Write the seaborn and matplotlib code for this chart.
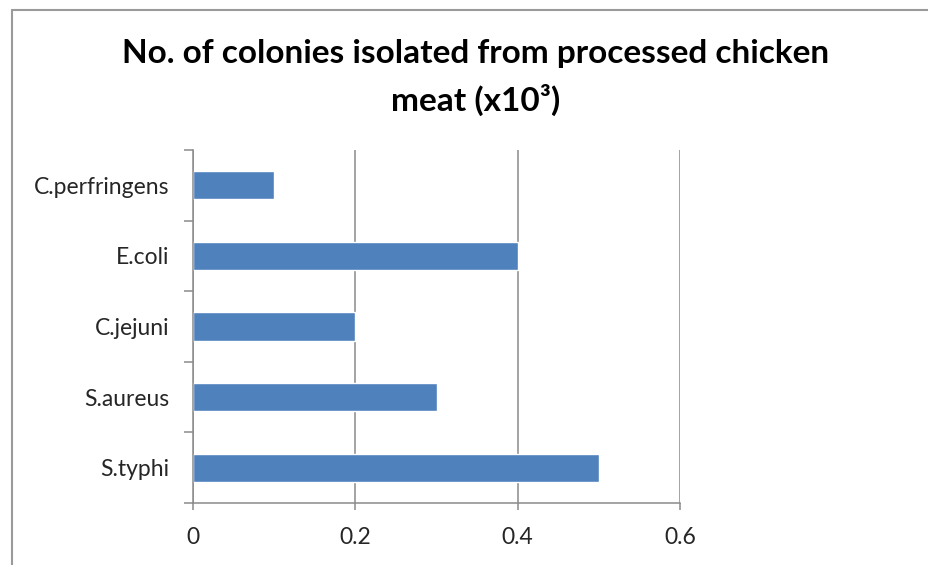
import matplotlib
matplotlib.use("Agg")
import matplotlib.pyplot as plt
import seaborn as sns
import pandas as pd
from matplotlib.lines import Line2D

# Data
organisms = ["C.perfringens", "E.coli", "C.jejuni", "S.aureus", "S.typhi"]
colonies = [0.1, 0.4, 0.2, 0.3, 0.5]
x_ticks = [0, 0.2, 0.4, 0.6]
x_tick_labels = ["0", "0.2", "0.4", "0.6"]

df = pd.DataFrame({"Organism": organisms, "Colonies": colonies})

sns.set_theme(style="white")
plt.rcParams["font.family"] = ["Lato", "DejaVu Sans"]

grey = "#8a8a8a"
bar_blue = "#4f81bd"

fig = plt.figure(figsize=(9.29, 5.65), dpi=100)
ax = fig.add_axes([193 / 929, 1 - 503 / 565, (680 - 193) / 929, (503 - 150) / 565])

sns.barplot(data=df, x="Colonies", y="Organism", order=organisms,
            color=bar_blue, width=0.4, saturation=1, ax=ax)

ax.set_xlim(0, 0.6)
ax.set_ylim(len(organisms) - 0.5, -0.5)
ax.set_xlabel("")
ax.set_ylabel("")

# vertical gridlines
ax.set_xticks(x_ticks)
ax.set_xticklabels(x_tick_labels, fontsize=16.5, color="#262626")
ax.grid(axis="x", color=grey, linewidth=1.1)
ax.set_axisbelow(True)

# category ticks sit between the bars, like Excel
ax.set_yticks(range(len(organisms)))
ax.set_yticklabels(organisms, fontsize=16.5, color="#262626")
ax.set_yticks([i - 0.5 for i in range(len(organisms) + 1)], minor=True)
ax.tick_params(axis="y", which="major", length=0, pad=17)
ax.tick_params(axis="y", which="minor", length=6.5, width=1.1, color=grey, left=True)
ax.tick_params(axis="x", which="major", length=5, width=1.1, color=grey, bottom=True, pad=12)

for side in ["top", "right"]:
    ax.spines[side].set_visible(False)
for side in ["left", "bottom"]:
    ax.spines[side].set_color(grey)
    ax.spines[side].set_linewidth(1.1)

fig.text(0.512, 1 - 53 / 565, "No. of colonies isolated from processed chicken",
         ha="center", va="center", fontsize=24, fontweight="bold", color="black")
fig.text(0.512, 1 - 100 / 565, "meat (x10\u00b3)",
         ha="center", va="center", fontsize=24, fontweight="bold", color="black")

# chart area border (top and left edges visible in the crop)
fig.add_artist(Line2D([12 / 929, 12 / 929], [0, 1 - 10 / 565], transform=fig.transFigure,
                      color="#9a9a9a", linewidth=1.5))
fig.add_artist(Line2D([12 / 929, 1], [1 - 10 / 565, 1 - 10 / 565], transform=fig.transFigure,
                      color="#9a9a9a", linewidth=1.5))

fig.savefig("out.png", dpi=100, facecolor="white")
